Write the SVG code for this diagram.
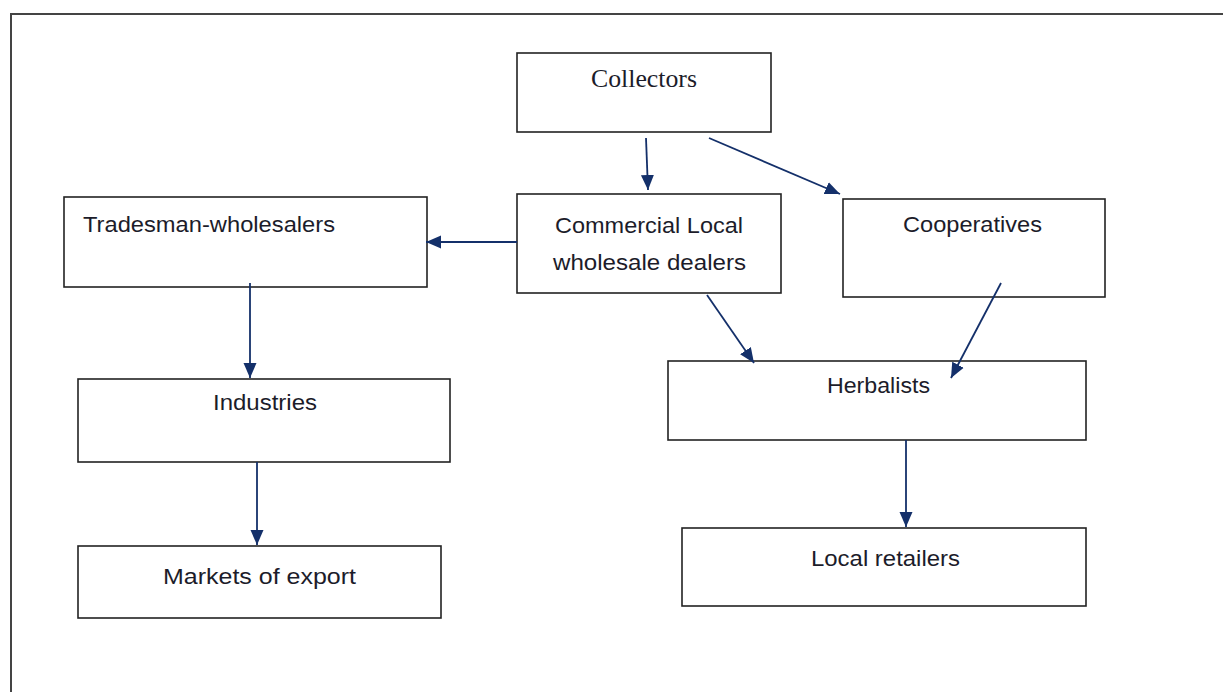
<svg xmlns="http://www.w3.org/2000/svg" width="1223" height="692" viewBox="0 0 1223 692">
<style>
.box{fill:#fff;stroke:#222;stroke-width:1.6}
.t{font-family:"Liberation Sans",Arial,sans-serif;font-size:22px;fill:#1c1c2a}
.s{font-family:"Liberation Serif","Times New Roman",serif;font-size:25px;fill:#1c1c2a}
.c{stroke:#14306a;stroke-width:1.8;fill:none;marker-end:url(#ah)}
</style>
<defs>
<marker id="ah" markerUnits="userSpaceOnUse" markerWidth="16" markerHeight="16" viewBox="0 0 16 16" refX="15" refY="8" orient="auto">
<path d="M0,1.5 L15,8 L0,14.5 Z" fill="#14306a"/>
</marker>
</defs>
<rect width="1223" height="692" fill="#fff"/>
<rect x="11" y="14" width="1230" height="700" fill="none" stroke="#444" stroke-width="2"/>
<g id="collectors"><rect class="box" x="517" y="53" width="254" height="79"/><text class="s" x="591" y="87" textLength="106" lengthAdjust="spacingAndGlyphs">Collectors</text></g>
<g id="commercial"><rect class="box" x="517" y="194" width="264" height="99"/><text class="t" x="555" y="233" textLength="188" lengthAdjust="spacingAndGlyphs">Commercial Local</text><text class="t" x="553" y="270" textLength="193" lengthAdjust="spacingAndGlyphs">wholesale dealers</text></g>
<g id="tradesman"><rect class="box" x="64" y="197" width="363" height="90"/><text class="t" x="83" y="232" textLength="252" lengthAdjust="spacingAndGlyphs">Tradesman-wholesalers</text></g>
<g id="cooperatives"><rect class="box" x="843" y="199" width="262" height="98"/><text class="t" x="903" y="232" textLength="139" lengthAdjust="spacingAndGlyphs">Cooperatives</text></g>
<g id="herbalists"><rect class="box" x="668" y="361" width="418" height="79"/><text class="t" x="827" y="393" textLength="103" lengthAdjust="spacingAndGlyphs">Herbalists</text></g>
<g id="industries"><rect class="box" x="78" y="379" width="372" height="83"/><text class="t" x="213" y="410" textLength="104" lengthAdjust="spacingAndGlyphs">Industries</text></g>
<g id="markets"><rect class="box" x="78" y="546" width="363" height="72"/><text class="t" x="163" y="584" textLength="193" lengthAdjust="spacingAndGlyphs">Markets of export</text></g>
<g id="retailers"><rect class="box" x="682" y="528" width="404" height="78"/><text class="t" x="811" y="566" textLength="149" lengthAdjust="spacingAndGlyphs">Local retailers</text></g>
<g id="connectors">
<line class="c" x1="646" y1="138" x2="648" y2="190"/>
<line class="c" x1="709" y1="138" x2="840" y2="194"/>
<line class="c" x1="517" y1="242" x2="426" y2="242"/>
<line class="c" x1="707" y1="295" x2="754" y2="363"/>
<line class="c" x1="1001" y1="283" x2="951" y2="378"/>
<line class="c" x1="250" y1="283" x2="250" y2="378"/>
<line class="c" x1="257" y1="462" x2="257" y2="545"/>
<line class="c" x1="906" y1="440" x2="906" y2="527"/>
</g>
</svg>
